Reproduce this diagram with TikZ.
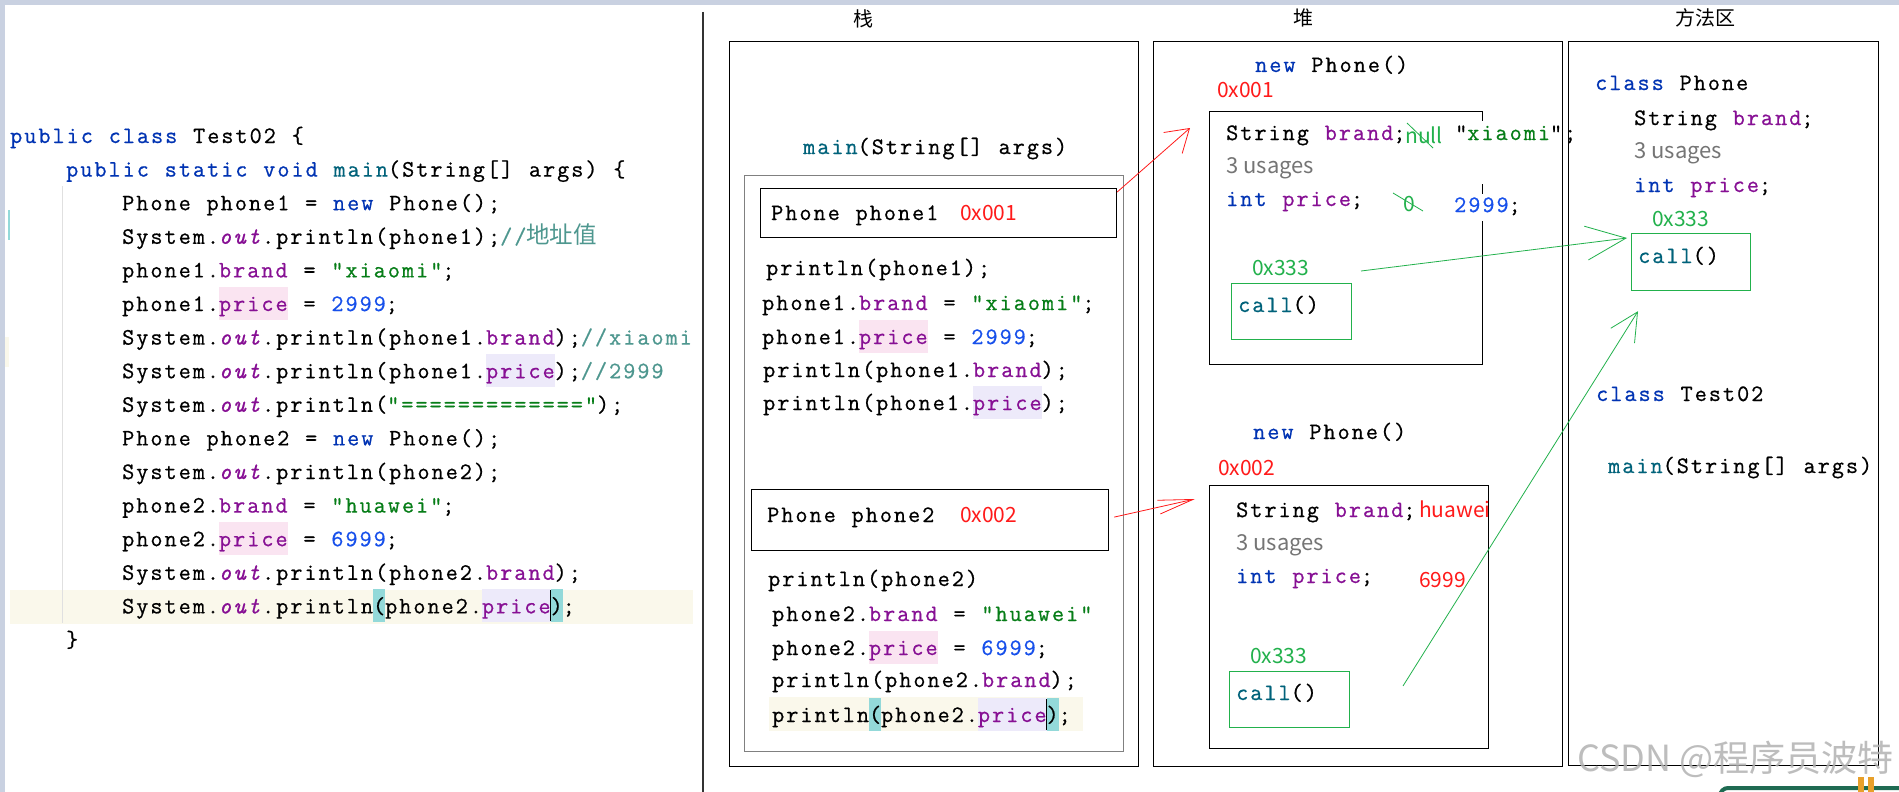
\documentclass[tikz,border=0pt]{standalone}
\usepackage{fontspec}
\setmonofont{Latin Modern Mono}[LetterSpace=8.6, WordSpace=1.12, FakeBold=0.7]
\newfontfamily\cjk{Noto Sans CJK SC}
\usetikzlibrary{arrows.meta}

\definecolor{kwblue}{HTML}{0033B3}
\definecolor{fieldc}{HTML}{871094}
\definecolor{strc}{HTML}{067D17}
\definecolor{numc}{HTML}{1750EB}
\definecolor{declc}{HTML}{00627A}
\definecolor{cmtc}{HTML}{4E978F}
\definecolor{pinkhl}{HTML}{FAE4F1}
\definecolor{lavhl}{HTML}{EDEAFA}
\definecolor{creamhl}{HTML}{FAF8EB}
\definecolor{tealhl}{HTML}{93D9D9}
\definecolor{addrred}{HTML}{FF1A1A}
\definecolor{linegreen}{HTML}{22B14C}
\definecolor{usagegray}{HTML}{757575}
\definecolor{barblue}{HTML}{C9D1E1}
\definecolor{logogreen}{HTML}{1F6B52}
\definecolor{logoorange}{HTML}{E8A02A}

\newcommand\codefont{\ttfamily\fontsize{23.5}{28}\selectfont}
\newcommand\kw[1]{\textcolor{kwblue}{#1}}
\newcommand\fld[1]{\textcolor{fieldc}{#1}}
\newcommand\jstr[1]{\textcolor{strc}{#1}}
\newcommand\jnum[1]{\textcolor{numc}{#1}}
\newcommand\decl[1]{\textcolor{declc}{#1}}
\newcommand\cmt[1]{\textcolor{cmtc}{#1}}
\newcommand\outf{\textcolor{fieldc}{\textit{out}}}
\newcommand\hl[2]{{\setlength\fboxsep{0pt}\colorbox{#1}{\rule[-9pt]{0pt}{33pt}#2}}}
\newcommand\caret{\makebox[0pt]{\rule[-8pt]{2pt}{31pt}}}

\tikzset{
  code/.style={anchor=base west, inner sep=0pt, font=\codefont},
  addr/.style={anchor=base west, inner sep=0pt, text=addrred, font=\cjk\fontsize{21}{24}\selectfont},
  gaddr/.style={addr, text=linegreen},
  usage/.style={anchor=base west, inner sep=0pt, text=usagegray, font=\cjk\fontsize{22}{26}\selectfont},
  title/.style={inner sep=0pt, font=\cjk\fontsize{20}{24}\selectfont},
  area/.style={draw, line width=1.2pt, anchor=north west, inner sep=0pt},
  framebox/.style={draw=black!50, line width=1.4pt, anchor=north west, inner sep=0pt},
  callbox/.style={draw=linegreen, line width=1.2pt, anchor=north west, inner sep=0pt},
  redarr/.style={draw=addrred, line width=0.8pt},
  greenarr/.style={draw=linegreen, line width=0.8pt},
}

\begin{document}
\begin{tikzpicture}[x=1pt,y=-1pt]
  \useasboundingbox (0,0) rectangle (1899,792);
  \fill[white] (0,0) rectangle (1899,792);
  \fill[barblue] (0,0) rectangle (1899,5);
  \fill[barblue] (0,0) rectangle (5,792);

  % editor side
  \fill[creamhl] (10,590) rectangle (693,624);
  \draw[black!12, line width=1pt] (62,186) -- (62,623);
  \draw[tealhl, line width=1.2pt] (9,210) -- (9,240);
  \fill[creamhl] (5,337) rectangle (9,367);

  \node[code] (c0) at (10,143) {\kw{public class} Test02 \{};
  \node[code] (c1) at (66,176.6) {\kw{public static void} \decl{main}(String[] args) \{};
  \node[code] (c2) at (122,210.2) {Phone phone1 = \kw{new} Phone();};
  \node[code] (c3) at (122,243.8) {System.\outf.println(phone1);\cmt{//{\cjk 地址值}}};
  \node[code] (c4) at (122,277.4) {phone1.\fld{brand} = \jstr{"xiaomi"};};
  \node[code] (c5) at (122,311) {phone1.\hl{pinkhl}{\fld{price}} = \jnum{2999};};
  \node[code] (c6) at (122,344.6) {System.\outf.println(phone1.\fld{brand});\cmt{//xiaomi}};
  \node[code] (c7) at (122,378.2) {System.\outf.println(phone1.\hl{lavhl}{\fld{price}});\cmt{//2999}};
  \node[code] (c8) at (122,411.8) {System.\outf.println(\jstr{"============="});};
  \node[code] (c9) at (122,445.4) {Phone phone2 = \kw{new} Phone();};
  \node[code] (c10) at (122,479) {System.\outf.println(phone2);};
  \node[code] (c11) at (122,512.6) {phone2.\fld{brand} = \jstr{"huawei"};};
  \node[code] (c12) at (122,546.2) {phone2.\hl{pinkhl}{\fld{price}} = \jnum{6999};};
  \node[code] (c13) at (122,579.8) {System.\outf.println(phone2.\fld{brand});};
  \node[code] (c14) at (122,613.4) {System.\outf.println\hl{tealhl}{(}phone2.\hl{lavhl}{\fld{price}}\caret\hl{tealhl}{)};};
  \node[code] (c15) at (66,647) {\}};

  \draw[black!80, line width=1.5pt] (703,12) -- (703,792);

  % stack
  \node[title] (stacktitle) at (863,19) {栈};
  \node[area, minimum width=409pt, minimum height=725pt] (stack) at (729,41) {};
  \node[code] (smain) at (803,154) {\decl{main}(String[] args)};
  \node[framebox, minimum width=379pt, minimum height=576pt] (frame) at (744,175) {};
  \node[area, minimum width=356pt, minimum height=49pt] (p1) at (760,188) {};
  \node[code] (p1name) at (771,220) {Phone phone1};
  \node[addr] (p1addr) at (960,220) {0x001};
  \node[code] (s1) at (766,275) {println(phone1);};
  \node[code] (s2) at (762,310) {phone1.\fld{brand} = \jstr{"xiaomi"};};
  \node[code] (s3) at (762,344) {phone1.\hl{pinkhl}{\fld{price}} = \jnum{2999};};
  \node[code] (s4) at (763,377) {println(phone1.\fld{brand});};
  \node[code] (s5) at (763,410) {println(phone1.\hl{lavhl}{\fld{price}});};
  \node[area, minimum width=357pt, minimum height=61pt] (p2) at (751,489) {};
  \node[code] (p2name) at (767,522) {Phone phone2};
  \node[addr] (p2addr) at (960,522) {0x002};
  \node[code] (s6) at (768,586) {println(phone2)};
  \node[code] (s7) at (772,621) {phone2.\fld{brand} = \jstr{"huawei"}};
  \node[code] (s8) at (772,655) {phone2.\hl{pinkhl}{\fld{price}} = \jnum{6999};};
  \node[code] (s9) at (772,687) {println(phone2.\fld{brand});};
  \fill[creamhl] (769,697) rectangle (1083,731);
  \node[code] (s10) at (772,722) {println\hl{tealhl}{(}phone2.\hl{lavhl}{\fld{price}}\caret\hl{tealhl}{)};};

  % heap
  \node[title] (heaptitle) at (1303,18) {堆};
  \node[area, minimum width=409pt, minimum height=725pt] (heap) at (1153,41) {};
  \node[code] (new1) at (1255,72) {\kw{new} Phone()};
  \node[addr] (o1addr) at (1217,98) {0x001};
  \node[area, minimum width=273pt, minimum height=253pt] (obj1) at (1209,111) {};
  \fill[white] (1477,121) rectangle (1487,184);
  \fill[white] (1477,194) rectangle (1487,221);
  \node[code] (o1brand) at (1226,140) {String \fld{brand};};
  \node[gaddr] (o1null) at (1405,143) {null};
  \draw[linegreen, line width=0.8pt] (1407,123) -- (1433,148);
  \node[code] (o1str) at (1455,140) {"\jstr{xiaomi}";};
  \node[usage] (o1use) at (1226,173) {3 usages};
  \node[code] (o1price) at (1226,206) {\kw{int} \fld{price};};
  \node[gaddr] (o1zero) at (1403,211) {0};
  \draw[linegreen, line width=0.8pt] (1393,193) -- (1423,211);
  \node[code] (o1num) at (1454,212) {\jnum{2999};};
  \node[gaddr] (o1call) at (1252,275) {0x333};
  \node[callbox, minimum width=120pt, minimum height=56pt] (call1) at (1231,283) {};
  \node[code] (call1txt) at (1238,312) {\decl{call}()};

  \node[code] (new2) at (1253,439) {\kw{new} Phone()};
  \node[addr] (o2addr) at (1218,475) {0x002};
  \node[area, minimum width=279pt, minimum height=263pt] (obj2) at (1209,485) {};
  \node[code] (o2brand) at (1236,517) {String \fld{brand};};
  \node[addr] (o2str) at (1419,517) {huawei};
  \node[usage] (o2use) at (1236,550) {3 usages};
  \node[code] (o2price) at (1236,583) {\kw{int} \fld{price};};
  \node[addr] (o2num) at (1419,587) {6999};
  \node[gaddr] (o2call) at (1250,663) {0x333};
  \node[callbox, minimum width=120pt, minimum height=56pt] (call2) at (1229,671) {};
  \node[code] (call2txt) at (1236,700) {\decl{call}()};

  % method area
  \node[title] (methodtitle) at (1705,18) {方法区};
  \node[area, minimum width=310pt, minimum height=724pt] (method) at (1568,41) {};
  \node[code] (mclass) at (1595,90) {\kw{class} Phone};
  \node[code] (mbrand) at (1634,125) {String \fld{brand};};
  \node[usage] (muse) at (1634,158) {3 usages};
  \node[code] (mprice) at (1634,192) {\kw{int} \fld{price};};
  \node[gaddr] (maddr) at (1652,226) {0x333};
  \node[callbox, minimum width=119pt, minimum height=57pt] (mcall) at (1631,233) {};
  \node[code] (mcalltxt) at (1638,263) {\decl{call}()};
  \node[code] (mtest) at (1596,401) {\kw{class} Test02};
  \node[code] (mmain) at (1608,473) {\decl{main}(String[] args)};

  % references
  \coordinate (obj1in) at (1190,128);
  \coordinate (obj2in) at (1195,499);
  \coordinate (g1from) at (1361,271);
  \coordinate (g2from) at (1403,686);
  \draw[redarr, -{Straight Barb[length=22pt,width=28pt]}] ([yshift=-4pt]p1.north east) -- (obj1in);
  \draw[redarr, -{Straight Barb[length=35pt,width=14pt]}] ([xshift=5pt,yshift=3pt]p2.east) -- (obj2in);
  \draw[greenarr, -{Straight Barb[length=40pt,width=34pt]}] (g1from) -- ([xshift=-4pt,yshift=-5pt]mcall.north west);
  \draw[greenarr, -{Straight Barb[length=28pt,width=28pt]}] (g2from) -- ([xshift=7pt,yshift=-20pt]mcall.south west);

  % watermark
  \node[anchor=base west, inner sep=0pt, text=black!30, opacity=0.85, font=\cjk\fontsize{36}{40}\selectfont] (mark) at (1577,771) {CSDN @程序员波特};
  \begin{scope}
    \clip (0,0) rectangle (1899,792);
    \draw[logogreen, line width=4pt, rounded corners=8pt] (1720,788) rectangle (1960,840);
    \fill[logoorange] (1858,777) rectangle (1864,792);
    \fill[logoorange] (1868,777) rectangle (1874,792);
  \end{scope}
\end{tikzpicture}
\end{document}
